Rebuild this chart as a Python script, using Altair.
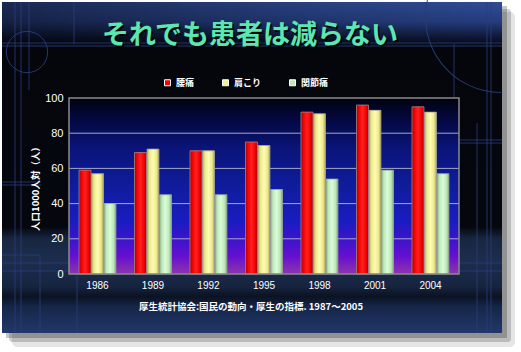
import altair as alt
import pandas as pd

# ---------------- data ----------------
years = ["1986", "1989", "1992", "1995", "1998", "2001", "2004"]
series_names = ["腰痛", "肩こり", "関節痛"]
low_back_pain = [59, 69, 70, 75, 92, 96, 95]
stiff_shoulder = [57, 71, 70, 73, 91, 93, 92]
joint_pain = [40, 45, 45, 48, 54, 59, 57]
grid_values = [20, 40, 60, 80]
y_ticks = [0, 20, 40, 60, 80, 100]

TITLE = "それでも患者は減らない"
Y_TITLE = "人口1000人対（人）"
CAPTION = "厚生統計協会:国民の動向・厚生の指標. 1987～2005"

rows = []
for name, vals in zip(series_names, [low_back_pain, stiff_shoulder, joint_pain]):
    for y, v in zip(years, vals):
        rows.append({"year": y, "series": name, "value": v})
df = pd.DataFrame(rows)
grid_df = pd.DataFrame({"value": grid_values})
one = pd.DataFrame({"k": [0]})

W, H = 390, 176
CJK = "Noto Sans CJK JP"
LAT = "Liberation Sans"


def lg(stops, vertical=False):
    return alt.LinearGradient(
        gradient="linear",
        stops=[alt.GradientStop(color=c, offset=o) for o, c in stops],
        x1=0, y1=0,
        x2=0 if vertical else 1,
        y2=1 if vertical else 0,
    )


def rect(x, x2, y, y2, **kw):
    return alt.Chart(one).mark_rect(**kw).encode(
        x=alt.value(x), x2=alt.value(x2), y=alt.value(y), y2=alt.value(y2)
    )


def rule(x, x2, y, y2, color="#2b3d7a", w=1, op=0.8):
    return alt.Chart(one).mark_rule(color=color, strokeWidth=w, opacity=op).encode(
        x=alt.value(x), x2=alt.value(x2), y=alt.value(y), y2=alt.value(y2)
    )


# plot origin is at (69, 98) in page pixels
OX, OY = 69, 98

layers = []
# soft shadow of the slide (right and bottom)
layers.append(rect(12 - OX, 515 - OX, 12 - OY, 347 - OY, fill="#000000", opacity=0.10, cornerRadius=5))
layers.append(rect(9 - OX, 511 - OX, 9 - OY, 342 - OY, fill="#000000", opacity=0.18, cornerRadius=3))
layers.append(rect(6 - OX, 507 - OX, 6 - OY, 338 - OY, fill="#000000", opacity=0.22))

# slide background
slide_grad = lg([
    (0.0, "#2f4c96"), (0.06, "#243c7c"), (0.11, "#0d1530"), (0.14, "#04060c"),
    (0.68, "#05070e"), (0.715, "#172640"), (0.78, "#1c2d4e"), (0.86, "#16243f"),
    (0.89, "#0b1222"), (0.92, "#162648"), (1.0, "#21386a"),
], vertical=True)
layers.append(rect(2 - OX, 502 - OX, 2 - OY, 333 - OY, fill=slide_grad))
# darker left part of top band
layers.append(rect(2 - OX, 502 - OX, 2 - OY, 44 - OY,
                   fill=lg([(0.0, "rgba(0,0,0,0.45)"), (0.6, "rgba(0,0,0,0.15)"), (1.0, "rgba(0,0,0,0)")])))

# decorative thin lines
deco = [
    (2, 502, 43, 43), (2, 502, 46, 46),
    (15, 15, 2, 333), (21, 21, 2, 333), (29, 29, 2, 90), (74, 74, 2, 44),
    (454, 454, 44, 98), (487, 487, 2, 333), (491, 491, 2, 333),
    (460, 502, 140, 140), (460, 502, 143, 143),
    (477, 477, 123, 333), (2, 502, 263, 263), (2, 502, 271, 271),
    (2, 40, 255, 255), (40, 40, 255, 333), (77, 77, 275, 333),
    (2, 41, 182, 182), (2, 41, 185, 185),
]
for x, x2, y, y2 in deco:
    layers.append(rule(x - OX, x2 - OX, y - OY, y2 - OY))
layers.append(
    alt.Chart(one).mark_point(shape="circle", filled=False, size=1700, color="#2b3d7a",
                              strokeWidth=1, opacity=0.9)
    .encode(x=alt.value(27 - OX), y=alt.value(52 - OY))
)
layers.append(
    alt.Chart(one).mark_arc(radius=76, radius2=75, theta=3.14159, theta2=4.95,
                            fill="#2b3d7a", opacity=0.9)
    .encode(x=alt.value(501 - OX), y=alt.value(17 - OY))
)

# plot background
plot_grad = lg([
    (0.0, "#01020e"), (0.12, "#040840"), (0.28, "#0a1478"), (0.5, "#0f1c9c"),
    (0.7, "#1a1cc0"), (0.8, "#3a14cc"), (0.9, "#6610d0"), (1.0, "#8e36ac"),
], vertical=True)
layers.append(rect(0, W, 0, H, fill=plot_grad))

y_scale = alt.Scale(domain=[0, 100], nice=False)
y_axis = alt.Axis(values=y_ticks, labelColor="white", labelFont=LAT, labelFontSize=11,
                  labelPadding=6, labelOverlap=False, labelBound=False,
                  domain=False, ticks=False, grid=False,
                  title=Y_TITLE, titleColor="white", titleFont=CJK, titleFontSize=9.5,
                  titleFontWeight="bold", titlePadding=4, zindex=1)
y_enc = alt.Y("value:Q", scale=y_scale, axis=y_axis)

# grid lines
layers.append(
    alt.Chart(grid_df).mark_rule(color="#b4b8d0", strokeWidth=1, opacity=0.9)
    .encode(y=y_enc)
)

x_enc = alt.X(
    "year:N",
    sort=years,
    scale=alt.Scale(paddingInner=0.333, paddingOuter=0.18),
    axis=alt.Axis(labelAngle=0, labelColor="white", labelFont=LAT, labelFontSize=10,
                  labelPadding=6, domain=False, ticks=False, title=None, zindex=1),
)
xo_enc = alt.XOffset("series:N", scale=alt.Scale(domain=series_names, paddingInner=0.04))

# base bars providing legend
layers.append(
    alt.Chart(df).mark_bar().encode(
        x=x_enc, y=y_enc, xOffset=xo_enc,
        color=alt.Color(
            "series:N",
            scale=alt.Scale(domain=series_names, range=["#ff0000", "#f4f08c", "#c0e8b8"]),
            legend=alt.Legend(orient="none", legendX=94, legendY=-20, direction="horizontal",
                              title=None, symbolType="square", symbolSize=36,
                              symbolStrokeColor="white", symbolStrokeWidth=1,
                              labelColor="white", labelFont=CJK, labelFontSize=9,
                              labelFontWeight="bold", columnPadding=25, labelOffset=4,
                              zindex=1),
        ),
    )
)

grads = {
    "腰痛": [(0.0, "#a80000"), (0.18, "#f00000"), (0.5, "#ff2020"), (0.82, "#f00000"), (1.0, "#a00000")],
    "肩こり": [(0.0, "#b0a868"), (0.2, "#ece888"), (0.5, "#fffcb4"), (0.8, "#ece888"), (1.0, "#a8a060")],
    "関節痛": [(0.0, "#88b088"), (0.2, "#bfe8bc"), (0.5, "#dafcd6"), (0.8, "#bce6b8"), (1.0, "#80a880")],
}
for name in series_names:
    layers.append(
        alt.Chart(df).transform_filter(alt.datum.series == name)
        .mark_bar(fill=lg(grads[name]), stroke="#9a9a9a", strokeWidth=0.7)
        .encode(x=x_enc, y=y_enc, xOffset=xo_enc)
    )

# plot border
layers.append(rect(0, W, 0, H, fillOpacity=0, stroke="#8a8a8a", strokeWidth=1.5))

# title (with shadow) and caption
layers.append(
    alt.Chart(one).mark_text(text=TITLE, font=CJK, fontSize=27, fontWeight="bold",
                             color="#000000", opacity=0.8, align="center", baseline="middle")
    .encode(x=alt.value(251.5 - OX), y=alt.value(37.5 - OY))
)
layers.append(
    alt.Chart(one).mark_text(text=TITLE, font=CJK, fontSize=27, fontWeight="bold",
                             color="#5ee6b2", align="center", baseline="middle")
    .encode(x=alt.value(250 - OX), y=alt.value(36 - OY))
)
layers.append(
    alt.Chart(one).mark_text(text=CAPTION, font=CJK, fontSize=9.5, fontWeight="bold",
                             color="white", align="center", baseline="middle")
    .encode(x=alt.value(251 - OX), y=alt.value(307 - OY))
)

chart = alt.layer(*layers).properties(
    width=W, height=H,
    autosize=alt.AutoSizeParams(type="none"),
    padding={"left": OX, "top": OY, "right": 521 - OX - W, "bottom": 352 - OY - H},
).configure(background="white").configure_view(strokeWidth=0)

chart.save("out.html", embed_options={"renderer": "svg", "actions": False})
